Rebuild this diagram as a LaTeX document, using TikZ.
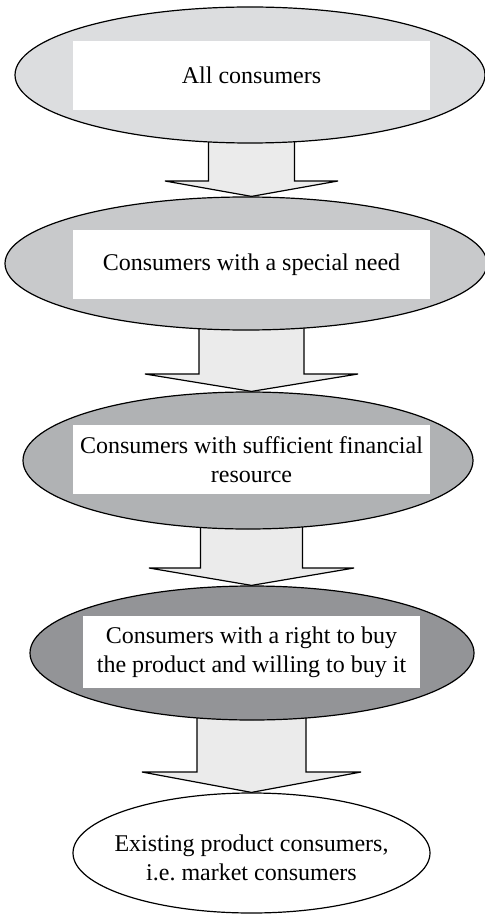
\documentclass[tikz,border=0pt]{standalone}
\usepackage{fontspec}
\setmainfont{Liberation Serif}
\usetikzlibrary{shapes.geometric,calc}
\pgfdeclarelayer{background}
\pgfsetlayers{background,main}
\definecolor{ellA}{HTML}{DCDDDF}
\definecolor{ellB}{HTML}{C8C9CB}
\definecolor{ellC}{HTML}{B0B2B4}
\definecolor{ellD}{HTML}{939497}
\definecolor{arrowfill}{HTML}{EBEBEB}
\tikzset{
  ell/.style={ellipse, draw=black, line width=0.6pt, inner sep=0pt},
  wbox/.style={fill=white, draw=none, inner sep=0pt, align=center,
    font=\fontsize{12}{14.5}\selectfont},
  blockarrow/.style={draw=black, line width=0.6pt, fill=arrowfill, line join=miter},
}
\newcommand{\blkarrow}[6]{%
  % #1 from node, #2 to node, #3 half shaft, #4 half head, #5 head top y, #6 tip y
  \path[blockarrow]
    ($(#1.south -| ax)+(-#3,-6)$) --
    ($(ax |- 0,#5)+(-#3,0)$) --
    ($(ax |- 0,#5)+(-#4,0)$) --
    (ax |- #2.north) --
    ($(ax |- 0,#5)+(#4,0)$) --
    ($(ax |- 0,#5)+(#3,0)$) --
    ($(#1.south -| ax)+(#3,-6)$) -- cycle;
}
\begin{document}
\begin{tikzpicture}[x=0.5pt,y=-0.5pt]
\useasboundingbox (0,0) rectangle (485,914);
\coordinate (ax) at (251.5,0);
% ellipses
\node[ell, fill=ellA, minimum width=470*0.5pt, minimum height=136*0.5pt] (e1) at (250,75) {};
\node[ell, fill=ellB, minimum width=482*0.5pt, minimum height=133*0.5pt] (e2) at (246,263.5) {};
\node[ell, fill=ellC, minimum width=450*0.5pt, minimum height=137*0.5pt] (e3) at (248,460.5) {};
\node[ell, fill=ellD, minimum width=444*0.5pt, minimum height=134*0.5pt] (e4) at (252,653) {};
\node[ell, fill=white, minimum width=357*0.5pt, minimum height=120*0.5pt] (e5) at (251.5,853) {};
% block arrows behind the ellipses
\begin{pgfonlayer}{background}
\blkarrow{e1}{e2}{43}{86.5}{181}{195}
\blkarrow{e2}{e3}{52.5}{106.5}{374}{388}
\blkarrow{e3}{e4}{51}{102.5}{568}{582}
\blkarrow{e4}{e5}{54.5}{109.5}{772}{790}
\end{pgfonlayer}
% white text boxes
\node[wbox, minimum width=357*0.5pt, minimum height=69*0.5pt] (t1) at (251.5,75.5) {All consumers};
\node[wbox, minimum width=357*0.5pt, minimum height=69*0.5pt] (t2) at (251.5,264.5) {Consumers with a special need};
\node[wbox, minimum width=357*0.5pt, minimum height=69*0.5pt] (t3) at (251.5,459.5) {Consumers with sufficient financial\\resource};
\node[wbox, minimum width=337*0.5pt, minimum height=72*0.5pt] (t4) at (251.5,652) {Consumers with a right to buy\\the product and willing to buy it};
\node[inner sep=0pt, align=center, font=\fontsize{12}{14.5}\selectfont] (t5) at (251.5,858) {Existing product consumers,\\i.e.\ market consumers};
\end{tikzpicture}
\end{document}
